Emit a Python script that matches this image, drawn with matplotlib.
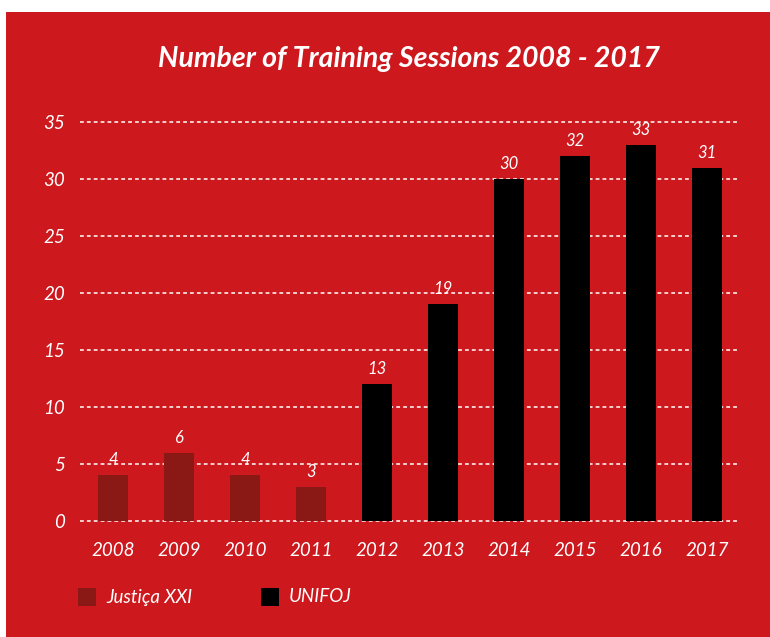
import matplotlib
matplotlib.use("Agg")
import matplotlib.pyplot as plt
from matplotlib.patches import Rectangle

years = ["2008", "2009", "2010", "2011", "2012", "2013", "2014", "2015", "2016", "2017"]
values = [4, 6, 4, 3, 12, 19, 30, 32, 33, 31]
value_labels = ["4", "6", "4", "3", "13", "19", "30", "32", "33", "31"]
series = ["Justiça XXI"] * 4 + ["UNIFOJ"] * 6
series_names = ["Justiça XXI", "UNIFOJ"]
series_colors = {"Justiça XXI": "#8A1915", "UNIFOJ": "#000000"}
yticks = [0, 5, 10, 15, 20, 25, 30, 35]
title = "Number of Training Sessions 2008 - 2017"

BG = "#CD181E"
W, H = 770, 637
fig = plt.figure(figsize=(W / 100, H / 100), dpi=100, facecolor="white")
# red panel
fig.patches.append(Rectangle((6 / W, 0), 1 - 6 / W, 1 - 12 / H, transform=fig.transFigure,
                             facecolor=BG, edgecolor="none", zorder=-10))

ax = fig.add_axes([80 / W, 1 - 521 / H, 660 / W, 399 / H])
ax.set_facecolor("none")
x = list(range(len(years)))
ax.bar(x, values, width=0.45, color=[series_colors[s] for s in series], zorder=3)
ax.set_xlim(-0.5, len(years) - 0.5)
ax.set_ylim(0, 35)
ax.set_yticks(yticks)
for yv in yticks:
    ax.axhline(yv, color="white", lw=1.1, ls=(0, (2.5, 2)), zorder=2, clip_on=False)
ax.grid(False)
for sp in ax.spines.values():
    sp.set_visible(False)
ax.tick_params(length=0)
ax.set_yticklabels([str(v) for v in yticks], color="white", fontsize=13.5,
                   fontstyle="italic", family="Lato")
ax.tick_params(axis="y", pad=11)
ax.set_xticks(x)
ax.set_xticklabels(years, color="white", fontsize=13.5, fontstyle="italic", family="Lato")
ax.tick_params(axis="x", pad=15)

for xi, v, lab in zip(x, values, value_labels):
    ax.annotate(lab, (xi, v), xytext=(0, 5), textcoords="offset points", ha="center",
                va="bottom", color="white", fontsize=12, fontstyle="italic", family="Lato")

fig.text(409 / W, 1 - 59 / H, title, ha="center", va="center", color="white",
         fontsize=20.5, fontweight="bold", fontstyle="italic", family="Lato")

# legend
for name, lx in zip(series_names, [78, 261]):
    fig.patches.append(Rectangle((lx / W, 1 - 606 / H), 18 / W, 18 / H, transform=fig.transFigure,
                                 facecolor=series_colors[name], edgecolor="none", zorder=5))
    fig.text((lx + 28) / W, 1 - 597 / H, name, ha="left", va="center", color="white",
             fontsize=13.5, fontstyle="italic", family="Lato")

fig.savefig("out.png", dpi=100, facecolor="white")
